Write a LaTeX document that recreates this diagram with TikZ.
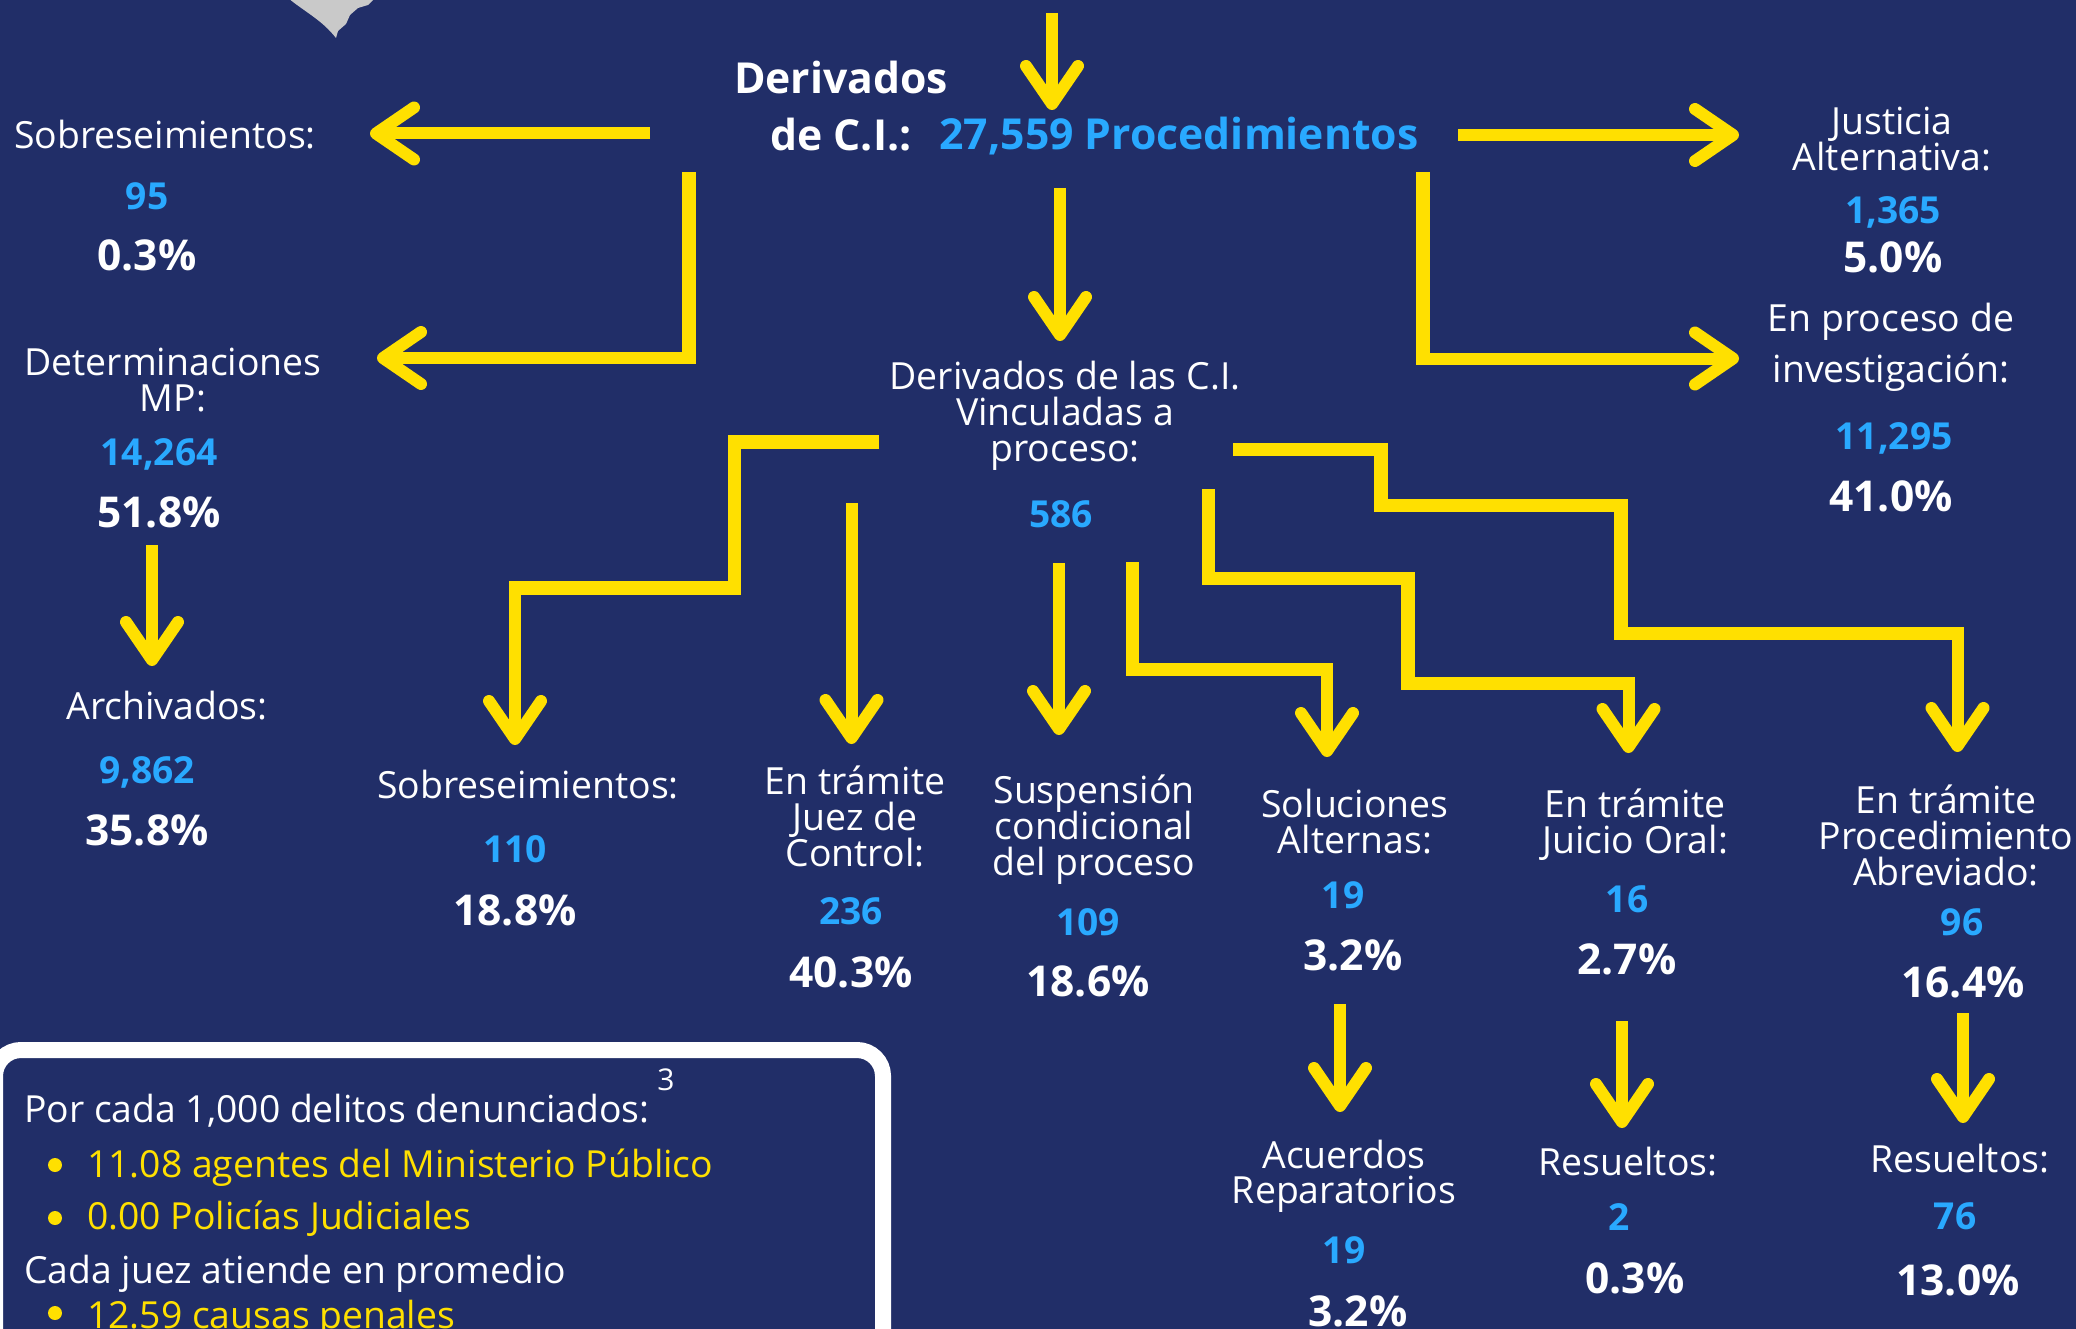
\documentclass[tikz,border=0pt]{standalone}
\usepackage{fontspec}
\setmainfont{Open Sans}
\usetikzlibrary{arrows.meta}
\definecolor{bgnavy}{HTML}{212E68}
\definecolor{yel}{HTML}{FFE000}
\definecolor{sky}{HTML}{29A9FF}
\definecolor{gry}{HTML}{C9C9C9}
\tikzset{
  x=1pt,y=-1pt,
  bar/.style={draw=yel,line width=13.5pt,line join=miter},
  arr/.style={draw=yel,line width=12pt,-{Straight Barb[length=38pt,width=52pt,line width=12pt,round]}},
  reg/.style={text=white,font=\fontsize{37.4}{37.4}\selectfont,anchor=base,inner sep=0pt,yshift=-13pt},
  num/.style={text=sky,font=\fontsize{37.2}{37.2}\bfseries\selectfont,anchor=base,inner sep=0pt,yshift=-13pt},
  pct/.style={text=white,font=\fontsize{42.5}{42.5}\bfseries\selectfont,anchor=base,inner sep=0pt,yshift=-15pt},
  head/.style={text=white,font=\fontsize{42.7}{42.7}\bfseries\selectfont,anchor=base,inner sep=0pt,yshift=-15pt},
  boxt/.style={text=white,font=\fontsize{37.3}{37.3}\selectfont,anchor=base west,inner sep=0pt},
  boxy/.style={boxt,text=yel},
  dot/.style={circle,fill=yel,inner sep=0pt,minimum size=14pt},
}
\begin{document}
\begin{tikzpicture}
\useasboundingbox (0,0) rectangle (2076,1329);
\clip (0,0) rectangle (2076,1329);
\fill[bgnavy] (0,0) rectangle (2076,1329);
% grey shape
\fill[gry] (288,-2) .. controls (305,12) and (322,20) .. (336,38) -- (338,31) -- (346,24) -- (350,15) -- (358,8) -- (368,5) -- (375,-2) -- cycle;
% info box
\draw[white,line width=16pt,fill=bgnavy,rounded corners=26pt] (-5,1050) rectangle (883,1400);

% top labels
\node[head] (t1) at (841,79) {Derivados};
\node[head] (t2) at (841,136) {de C.I.:};
\node[head,text=sky] (t3) at (1179,135) {27,559 Procedimientos};
% left column
\node[reg] (a1) at (165,136) {Sobreseimientos:};
\node[num] (a2) at (147,197) {95};
\node[pct] (a3) at (147,256) {0.3\%};
\node[reg] (b1) at (173,362) {Determinaciones};
\node[reg] (b2) at (173,398) {MP:};
\node[num] (b3) at (159,452) {14,264};
\node[pct] (b4) at (159,512) {51.8\%};
\node[reg] (c1) at (167,706) {Archivados:};
\node[num] (c2) at (147,770) {9,862};
\node[pct] (c3) at (147,830) {35.8\%};
% right column
\node[reg] (d1) at (1892,122) {Justicia};
\node[reg] (d2) at (1892,158) {Alternativa:};
\node[num] (d3) at (1893,211) {1,365};
\node[pct] (d4) at (1893,258) {5.0\%};
\node[reg] (e1) at (1891,318) {En proceso de};
\node[reg] (e2) at (1891,369) {investigación:};
\node[num] (e3) at (1894,436) {11,295};
\node[pct] (e4) at (1891,496) {41.0\%};
% centre
\node[reg] (f1) at (1065,376) {Derivados de las C.I.};
\node[reg] (f2) at (1065,412) {Vinculadas a};
\node[reg] (f3) at (1065,448) {proceso:};
\node[num] (f4) at (1061,514) {586};
% row
\node[reg] (g1) at (528,785) {Sobreseimientos:};
\node[num] (g2) at (515,849) {110};
\node[pct] (g3) at (515,910) {18.8\%};
\node[reg] (h1) at (855,781) {En trámite};
\node[reg] (h2) at (855,817) {Juez de};
\node[reg] (h3) at (855,853) {Control:};
\node[num] (h4) at (851,911) {236};
\node[pct] (h5) at (851,972) {40.3\%};
\node[reg] (i1) at (1094,790) {Suspensión};
\node[reg] (i2) at (1094,826) {condicional};
\node[reg] (i3) at (1094,862) {del proceso};
\node[num] (i4) at (1088,922) {109};
\node[pct] (i5) at (1088,981) {18.6\%};
\node[reg] (j1) at (1355,804) {Soluciones};
\node[reg] (j2) at (1355,840) {Alternas:};
\node[num] (j3) at (1343,895) {19};
\node[pct] (j4) at (1353,955) {3.2\%};
\node[reg] (k1) at (1635,804) {En trámite};
\node[reg] (k2) at (1635,840) {Juicio Oral:};
\node[num] (k3) at (1627,899) {16};
\node[pct] (k4) at (1627,959) {2.7\%};
\node[reg] (l1) at (1946,800) {En trámite};
\node[reg] (l2) at (1946,836) {Procedimiento};
\node[reg] (l3) at (1946,872) {Abreviado:};
\node[num] (l4) at (1962,922) {96};
\node[pct] (l5) at (1963,982) {16.4\%};
\node[reg] (m1) at (1344,1155) {Acuerdos};
\node[reg] (m2) at (1344,1190) {Reparatorios};
\node[num] (m3) at (1344,1250) {19};
\node[pct] (m4) at (1358,1311) {3.2\%};
\node[reg] (n1) at (1628,1162) {Resueltos:};
\node[num] (n2) at (1619,1217) {2};
\node[pct] (n3) at (1635,1278) {0.3\%};
\node[reg] (o1) at (1960,1159) {Resueltos:};
\node[num] (o2) at (1955,1216) {76};
\node[pct] (o3) at (1958,1280) {13.0\%};
% box text
\node[boxt] (q1) at (24,1122) {Por cada 1,000 delitos denunciados:};
\node[boxt,font=\fontsize{30}{30}\selectfont,anchor=center] (q2) at (666,1080) {3};
\node[boxy] (q3) at (87,1177) {11.08 agentes del Ministerio Público};
\node[boxy] (q4) at (87,1229) {0.00 Policías Judiciales};
\node[boxt] (q5) at (24,1283) {Cada juez atiende en promedio};
\node[boxy] (q6) at (87,1328) {12.59 causas penales};
\node[dot] (p1) at (55,1165) {};
\node[dot] (p2) at (55,1218) {};
\node[dot] (p3) at (55,1313) {};

% straight arrows
\coordinate (s1) at (1052,13);     \coordinate (e1x) at (1052,110);
\coordinate (s2) at (1060,188);    \coordinate (e2x) at (1060,341);
\coordinate (s3) at (1458,135);    \coordinate (e3x) at (1739,135);
\coordinate (s5) at (650,133.5);   \coordinate (e5x) at (370,133.5);
\coordinate (s7) at (152,545);     \coordinate (e7x) at (152,666);
\draw[arr] (s1) -- (e1x);
\draw[arr] (s2) -- (e2x);
\draw[arr] (s3) -- (e3x);
\draw[arr] (s5) -- (e5x);
\draw[arr] (s7) -- (e7x);
% L-shaped
\coordinate (s4) at (1423,172);  \coordinate (c4) at (1423,364.5); \coordinate (c4b) at (1423,358.5); \coordinate (e4x) at (1739,358.5);
\draw[bar] (s4) -- (c4);
\draw[arr] (c4b) -- (e4x);
\coordinate (s6) at (689,172);   \coordinate (c6) at (689,364);    \coordinate (c6b) at (689,358);   \coordinate (e6x) at (377,358);
\draw[bar] (s6) -- (c6);
\draw[arr] (c6b) -- (e6x);
% stairs
\coordinate (as) at (879,442); \coordinate (a2x) at (734.5,442); \coordinate (a3x) at (734.5,588); \coordinate (a4x) at (509,588); \coordinate (a5x) at (515,582); \coordinate (ae) at (515,745);
\draw[bar] (as) -- (a2x) -- (a3x) -- (a4x);
\draw[arr] (a5x) -- (ae);
\coordinate (bs) at (851.5,503); \coordinate (be) at (851.5,744);
\draw[arr] (bs) -- (be);
\coordinate (cs) at (1059,563); \coordinate (ce) at (1059,735);
\draw[arr] (cs) -- (ce);
\coordinate (ds) at (1132.5,562); \coordinate (d2x) at (1132.5,669.5); \coordinate (d3x) at (1333,669.5); \coordinate (d4x) at (1327,663); \coordinate (de) at (1327,757);
\draw[bar] (ds) -- (d2x) -- (d3x);
\draw[arr] (d4x) -- (de);
\coordinate (es) at (1208.5,489); \coordinate (e2y) at (1208.5,578.5); \coordinate (e3y) at (1408,578.5); \coordinate (e4y) at (1408,683.5); \coordinate (e5y) at (1634.5,683.5); \coordinate (e6y) at (1628.5,677); \coordinate (ee) at (1628.5,753);
\draw[bar] (es) -- (e2y) -- (e3y) -- (e4y) -- (e5y);
\draw[arr] (e6y) -- (ee);
\coordinate (fs) at (1233,449.5); \coordinate (f2x) at (1381,449.5); \coordinate (f3x) at (1381,505.5); \coordinate (f4x) at (1621,505.5); \coordinate (f5x) at (1621,633.5); \coordinate (f6x) at (1963.5,633.5); \coordinate (f7x) at (1957.5,627); \coordinate (fe) at (1957.5,752);
\draw[bar] (fs) -- (f2x) -- (f3x) -- (f4x) -- (f5x) -- (f6x);
\draw[arr] (f7x) -- (fe);
% lower arrows
\coordinate (gs) at (1340,1004); \coordinate (ge) at (1340,1112);
\draw[arr] (gs) -- (ge);
\coordinate (hs) at (1622,1021); \coordinate (he) at (1622,1128);
\draw[arr] (hs) -- (he);
\coordinate (is) at (1963,1013); \coordinate (ie) at (1963,1123);
\draw[arr] (is) -- (ie);
\end{tikzpicture}
\end{document}
